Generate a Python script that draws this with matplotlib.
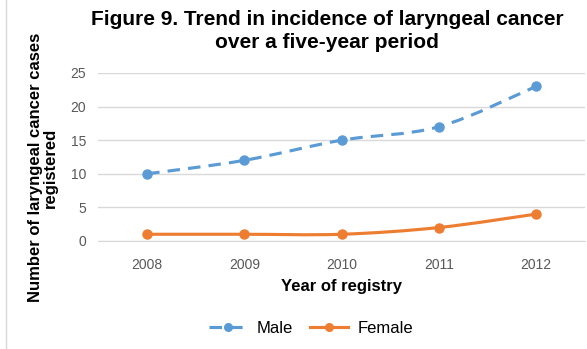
import matplotlib
matplotlib.use('Agg')
import matplotlib.pyplot as plt
from matplotlib.path import Path
from matplotlib.patches import PathPatch
from matplotlib.lines import Line2D

plt.rcParams['font.family'] = ['Liberation Sans', 'DejaVu Sans']

# Data
years = [2008, 2009, 2010, 2011, 2012]
male = [10, 12, 15, 17, 23]
female = [1, 1, 1, 2, 4]

male_color = '#5B9BD5'
female_color = '#ED7D31'


def smooth_path(xs, ys):
    # Excel-like smoothed line: cubic bezier through the points
    pts = list(zip(xs, ys))
    verts = [pts[0]]
    codes = [Path.MOVETO]
    n = len(pts)
    for i in range(n - 1):
        p0 = pts[max(i - 1, 0)]
        p1 = pts[i]
        p2 = pts[i + 1]
        p3 = pts[min(i + 2, n - 1)]
        c1 = (p1[0] + (p2[0] - p0[0]) / 6, p1[1] + (p2[1] - p0[1]) / 6)
        c2 = (p2[0] - (p3[0] - p1[0]) / 6, p2[1] - (p3[1] - p1[1]) / 6)
        verts += [c1, c2, p2]
        codes += [Path.CURVE4] * 3
    return Path(verts, codes)


fig = plt.figure(figsize=(5.87, 3.49), dpi=100)
ax = fig.add_axes([0.1678, 0.3095, 0.8282, 0.4814])

x = list(range(len(years)))

ax.add_patch(PathPatch(smooth_path(x, male), fill=False, edgecolor=male_color,
                       lw=2.25, linestyle=(0, (4, 2.6)), capstyle='butt'))
ax.plot(x, male, 'o', color=male_color, ms=6.5, clip_on=False, zorder=3)

ax.add_patch(PathPatch(smooth_path(x, female), fill=False, edgecolor=female_color,
                       lw=2.25, capstyle='round'))
ax.plot(x, female, 'o', color=female_color, ms=6.5, clip_on=False, zorder=3)

ax.set_xlim(-0.5, len(years) - 0.5)
ax.set_ylim(0, 25)
ax.set_yticks([0, 5, 10, 15, 20, 25])
ax.set_xticks(x)
ax.set_xticklabels([str(y) for y in years])
ax.grid(axis='y', color='#D9D9D9', lw=1)
ax.set_axisbelow(True)
for s in ['top', 'right', 'left']:
    ax.spines[s].set_visible(False)
ax.spines['bottom'].set_color('#D9D9D9')
ax.tick_params(length=0, labelsize=10, labelcolor='#595959')
ax.tick_params(axis='y', pad=9)
ax.tick_params(axis='x', pad=12)

ax.set_xlabel('Year of registry', fontsize=12, fontweight='bold', labelpad=5)
fig.text(0.073, 0.52, 'Number of laryngeal cancer cases\nregistered', rotation=90,
         fontsize=12, fontweight='bold', ha='center', va='center',
         multialignment='center', linespacing=1.05)

fig.suptitle('Figure 9. Trend in incidence of laryngeal cancer\nover a five-year period',
             x=0.557, y=0.972, fontsize=15, fontweight='bold', linespacing=1.3)

handles = [Line2D([], [], color=male_color, lw=2.25, linestyle=(0, (4, 2.6)),
                  marker='o', ms=5.5, label='Male'),
           Line2D([], [], color=female_color, lw=2.25, marker='o', ms=5.5, label='Female')]
fig.legend(handles=handles, loc='center', bbox_to_anchor=(0.53, 0.06), ncol=2,
           frameon=False, fontsize=12, handlelength=2.3, columnspacing=1.0,
           handletextpad=0.6, numpoints=1)

# chart border line on the left
fig.add_artist(Line2D([0.011, 0.011], [0, 1], color='#D9D9D9', lw=1))

fig.savefig('out.png', dpi=100)
